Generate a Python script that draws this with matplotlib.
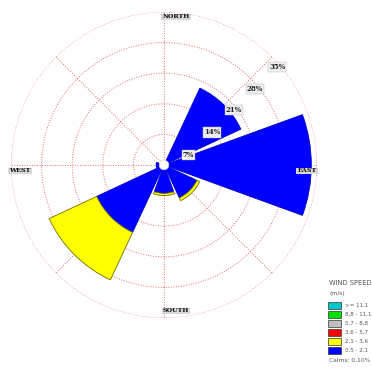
import numpy as np
import matplotlib
matplotlib.use("Agg")
import matplotlib.pyplot as plt
from matplotlib.patches import Rectangle, Circle

# Wind rose frequencies (%) per compass sector
directions = ["N", "NE", "E", "SE", "S", "SW", "W", "NW"]
dir_angles = [0, 45, 90, 135, 180, 225, 270, 315]
speed_05_21 = [0.0, 19.4, 33.7, 8.3, 6.5, 17.0, 1.8, 0.0]
speed_21_36 = [0.0, 0.0, 0.0, 0.7, 0.5, 12.0, 0.0, 0.0]
speed_36_57 = [0.0] * 8
speed_57_88 = [0.0] * 8
speed_88_111 = [0.0] * 8
speed_ge_111 = [0.0] * 8

ring_values = [7, 14, 21, 28, 35]
ring_labels = ["7%", "14%", "21%", "28%", "35%"]
compass_labels = ["NORTH", "EAST", "SOUTH", "WEST"]

legend_title = "WIND SPEED"
legend_unit = "(m/s)"
legend_labels = [">= 11,1", "8,8 - 11,1", "5,7 - 8,8", "3,6 - 5,7", "2,1 - 3,6", "0,5 - 2,1"]
legend_colors = ["#00c8c8", "#00e000", "#c0c0c0", "#ff0000", "#ffff00", "#0000ff"]
calms_text = "Calms: 0,10%"

W, H = 372, 378
fig = plt.figure(figsize=(W / 100, H / 100), dpi=100)
cx, cy, R = 164, 165, 153
ax = fig.add_axes([(cx - R) / W, (H - cy - R) / H, 2 * R / W, 2 * R / H], projection="polar")
ax.set_theta_zero_location("N")
ax.set_theta_direction(-1)
ax.set_ylim(0, 35)
ax.axis("off")

grid_kw = dict(color="#e86a6a", lw=0.7, ls=(0, (1, 1.6)), zorder=1)
t = np.linspace(0, 2 * np.pi, 400)
for rv in ring_values:
    ax.plot(t, np.full_like(t, rv), **grid_kw)
for a in dir_angles:
    ax.plot([np.deg2rad(a)] * 2, [0, 35], **grid_kw)

theta = np.deg2rad(dir_angles)
width = np.deg2rad(40)
stack = [
    (speed_05_21, "#0000ff", "#0000d0"),
    (speed_21_36, "#ffff00", "#707000"),
    (speed_36_57, "#ff0000", "#700000"),
    (speed_57_88, "#c0c0c0", "#606060"),
    (speed_88_111, "#00e000", "#007000"),
    (speed_ge_111, "#00c8c8", "#006060"),
]
bottom = np.zeros(len(directions))
for vals, fc, ec in stack:
    v = np.array(vals)
    mask = v > 0
    ax.bar(theta[mask], v[mask], width=width, bottom=bottom[mask],
           color=fc, edgecolor=ec, linewidth=0.6, zorder=3)
    bottom += v

# calm circle at the centre
ax.add_artist(Circle((0.5, 0.5), 4.8 / (2 * R), transform=ax.transAxes,
                     facecolor="white", edgecolor="#dddddd", lw=0.4, zorder=5))

# ring labels
label_pos = [(68, 6.0), (56, 13.3), (52, 20.3), (50, 27.2), (49, 34.3)]
for (ang, rr), txt in zip(label_pos, ring_labels):
    ax.text(np.deg2rad(ang), rr, txt, fontsize=5, family="DejaVu Serif",
            fontweight="bold", color="#222222", ha="center", va="center", zorder=6,
            bbox=dict(boxstyle="square,pad=0.15", fc="#eeeeee", ec="#bbbbbb", lw=0.3))

# compass labels (pixel positions in the figure)
comp_pos = [(176, 17), (307, 171), (176, 311), (20, 171)]
for (px, py), txt in zip(comp_pos, compass_labels):
    fig.text(px / W, 1 - py / H, txt, fontsize=4.6, family="DejaVu Serif",
             fontweight="bold", color="#111111", ha="center", va="center", zorder=6,
             bbox=dict(boxstyle="square,pad=0.15", fc="#d8d8d8", ec="none"))

# legend
tc = "#555555"
fig.text(329 / W, 1 - 283 / H, legend_title, fontsize=4.9, color=tc, va="center", ha="left")
fig.text(330 / W, 1 - 293 / H, legend_unit, fontsize=4.3, color=tc, va="center", ha="left")
rows_y = [305, 314, 323, 332, 341, 350]
for yy, lab, col in zip(rows_y, legend_labels, legend_colors):
    fig.patches.append(Rectangle((328 / W, 1 - (yy + 3.5) / H), 13 / W, 7 / H,
                                 transform=fig.transFigure, facecolor=col,
                                 edgecolor="#333333", lw=0.5))
    fig.text(345 / W, 1 - yy / H, lab, fontsize=4.0, color=tc, va="center", ha="left")
fig.text(329 / W, 1 - 360 / H, calms_text, fontsize=4.3, color=tc, va="center", ha="left")

fig.savefig("out.png", dpi=100, facecolor="white")
